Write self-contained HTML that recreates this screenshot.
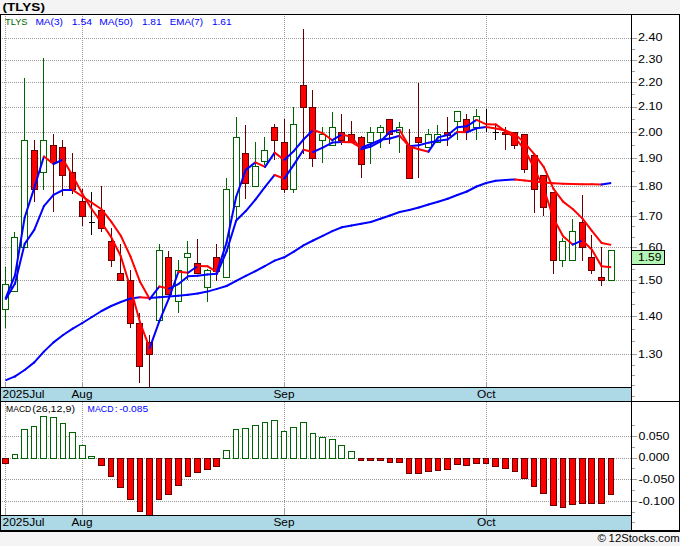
<!DOCTYPE html><html><head><meta charset="utf-8"><title>TLYS</title><style>html,body{margin:0;padding:0;background:#f4f4f4;}svg{display:block;}text{font-family:"Liberation Sans",sans-serif;}</style></head><body>
<svg width="680" height="546" viewBox="0 0 680 546">
<rect x="0" y="0" width="680" height="546" fill="#f4f4f4"/>
<rect x="0" y="14" width="680" height="518" fill="#000"/>
<rect x="1" y="15" width="678" height="515" fill="#fff"/>
<rect x="1" y="387" width="630" height="15" fill="#000"/><rect x="1" y="388" width="630" height="13" fill="#add8e6"/>
<rect x="1" y="515" width="630" height="15" fill="#000"/><rect x="1" y="516" width="630" height="14" fill="#add8e6"/>
<rect x="631" y="15" width="1" height="516" fill="#000"/>
<rect x="631" y="401" width="48" height="1" fill="#000"/>
<g stroke="#999999" stroke-width="1" stroke-dasharray="1 1" shape-rendering="crispEdges">
<line x1="2" y1="38.5" x2="631" y2="38.5"/>
<line x1="2" y1="60.5" x2="631" y2="60.5"/>
<line x1="2" y1="82.5" x2="631" y2="82.5"/>
<line x1="2" y1="107.5" x2="631" y2="107.5"/>
<line x1="2" y1="132.5" x2="631" y2="132.5"/>
<line x1="2" y1="158.5" x2="631" y2="158.5"/>
<line x1="2" y1="186.5" x2="631" y2="186.5"/>
<line x1="2" y1="216.5" x2="631" y2="216.5"/>
<line x1="2" y1="247.5" x2="631" y2="247.5"/>
<line x1="2" y1="280.5" x2="631" y2="280.5"/>
<line x1="2" y1="316.5" x2="631" y2="316.5"/>
<line x1="2" y1="354.5" x2="631" y2="354.5"/>
<line x1="2" y1="436.5" x2="631" y2="436.5"/>
<line x1="2" y1="458.5" x2="631" y2="458.5"/>
<line x1="2" y1="479.5" x2="631" y2="479.5"/>
<line x1="2" y1="501.5" x2="631" y2="501.5"/>
<line x1="5.5" y1="16" x2="5.5" y2="382"/>
<line x1="5.5" y1="402" x2="5.5" y2="510"/>
<line x1="82.5" y1="16" x2="82.5" y2="382"/>
<line x1="82.5" y1="402" x2="82.5" y2="510"/>
<line x1="284.5" y1="16" x2="284.5" y2="382"/>
<line x1="284.5" y1="402" x2="284.5" y2="510"/>
<line x1="486.5" y1="16" x2="486.5" y2="382"/>
<line x1="486.5" y1="402" x2="486.5" y2="510"/>
</g>
<g stroke="#a0a0a0" stroke-width="1" shape-rendering="crispEdges">
<line x1="5.5" y1="382" x2="5.5" y2="387"/>
<line x1="5.5" y1="509" x2="5.5" y2="515"/>
<line x1="82.5" y1="382" x2="82.5" y2="387"/>
<line x1="82.5" y1="509" x2="82.5" y2="515"/>
<line x1="284.5" y1="382" x2="284.5" y2="387"/>
<line x1="284.5" y1="509" x2="284.5" y2="515"/>
<line x1="486.5" y1="382" x2="486.5" y2="387"/>
<line x1="486.5" y1="509" x2="486.5" y2="515"/>
<line x1="632" y1="38.5" x2="637" y2="38.5"/>
<line x1="632" y1="60.5" x2="637" y2="60.5"/>
<line x1="632" y1="82.5" x2="637" y2="82.5"/>
<line x1="632" y1="107.5" x2="637" y2="107.5"/>
<line x1="632" y1="132.5" x2="637" y2="132.5"/>
<line x1="632" y1="158.5" x2="637" y2="158.5"/>
<line x1="632" y1="186.5" x2="637" y2="186.5"/>
<line x1="632" y1="216.5" x2="637" y2="216.5"/>
<line x1="632" y1="247.5" x2="637" y2="247.5"/>
<line x1="632" y1="280.5" x2="637" y2="280.5"/>
<line x1="632" y1="316.5" x2="637" y2="316.5"/>
<line x1="632" y1="354.5" x2="637" y2="354.5"/>
<line x1="632" y1="49.5" x2="635" y2="49.5"/>
<line x1="632" y1="71.5" x2="635" y2="71.5"/>
<line x1="632" y1="94.5" x2="635" y2="94.5"/>
<line x1="632" y1="119.5" x2="635" y2="119.5"/>
<line x1="632" y1="145.5" x2="635" y2="145.5"/>
<line x1="632" y1="171.5" x2="635" y2="171.5"/>
<line x1="632" y1="201.5" x2="635" y2="201.5"/>
<line x1="632" y1="226.5" x2="635" y2="226.5"/>
<line x1="632" y1="237.5" x2="635" y2="237.5"/>
<line x1="632" y1="258.5" x2="635" y2="258.5"/>
<line x1="632" y1="269.5" x2="635" y2="269.5"/>
<line x1="632" y1="292.5" x2="635" y2="292.5"/>
<line x1="632" y1="304.5" x2="635" y2="304.5"/>
<line x1="632" y1="329.5" x2="635" y2="329.5"/>
<line x1="632" y1="341.5" x2="635" y2="341.5"/>
<line x1="632" y1="365.5" x2="635" y2="365.5"/>
<line x1="632" y1="375.5" x2="635" y2="375.5"/>
<line x1="632" y1="385.5" x2="635" y2="385.5"/>
<line x1="632" y1="396.5" x2="635" y2="396.5"/>
<line x1="632" y1="436.5" x2="637" y2="436.5"/>
<line x1="632" y1="458.5" x2="637" y2="458.5"/>
<line x1="632" y1="479.5" x2="637" y2="479.5"/>
<line x1="632" y1="501.5" x2="637" y2="501.5"/>
<line x1="632" y1="425.5" x2="635" y2="425.5"/>
<line x1="632" y1="447.5" x2="635" y2="447.5"/>
<line x1="632" y1="468.5" x2="635" y2="468.5"/>
<line x1="632" y1="490.5" x2="635" y2="490.5"/>
<line x1="632" y1="512.5" x2="635" y2="512.5"/>
<line x1="632" y1="522.5" x2="635" y2="522.5"/>
</g>
<g shape-rendering="crispEdges">
<rect x="5" y="267" width="1" height="17" fill="#006400"/>
<rect x="5" y="309" width="1" height="19" fill="#006400"/>
<rect x="2.5" y="284.5" width="6" height="25" fill="#fff" stroke="#006400" stroke-width="1"/>
<rect x="14" y="232" width="1" height="5" fill="#006400"/>
<rect x="11.5" y="237.5" width="6" height="54" fill="#fff" stroke="#006400" stroke-width="1"/>
<rect x="24" y="78" width="1" height="62" fill="#006400"/>
<rect x="21.5" y="140.5" width="6" height="107" fill="#fff" stroke="#006400" stroke-width="1"/>
<rect x="34" y="140" width="1" height="10" fill="#660000"/>
<rect x="34" y="189" width="1" height="13" fill="#660000"/>
<rect x="31.5" y="150.5" width="6" height="39" fill="#ff0000" stroke="#660000" stroke-width="1"/>
<rect x="43" y="58" width="1" height="82" fill="#006400"/>
<rect x="43" y="172" width="1" height="18" fill="#006400"/>
<rect x="40.5" y="140.5" width="6" height="32" fill="#fff" stroke="#006400" stroke-width="1"/>
<rect x="53" y="134" width="1" height="11" fill="#660000"/>
<rect x="53" y="162" width="1" height="50" fill="#660000"/>
<rect x="50.5" y="145.5" width="6" height="17" fill="#ff0000" stroke="#660000" stroke-width="1"/>
<rect x="62" y="140" width="1" height="7" fill="#660000"/>
<rect x="62" y="175" width="1" height="21" fill="#660000"/>
<rect x="59.5" y="147.5" width="6" height="28" fill="#ff0000" stroke="#660000" stroke-width="1"/>
<rect x="72" y="153" width="1" height="19" fill="#660000"/>
<rect x="72" y="189" width="1" height="5" fill="#660000"/>
<rect x="69.5" y="172.5" width="6" height="17" fill="#ff0000" stroke="#660000" stroke-width="1"/>
<rect x="82" y="189" width="1" height="12" fill="#660000"/>
<rect x="82" y="216" width="1" height="10" fill="#660000"/>
<rect x="79.5" y="201.5" width="6" height="15" fill="#ff0000" stroke="#660000" stroke-width="1"/>
<rect x="91" y="192" width="1" height="43" fill="#000"/>
<rect x="89" y="222" width="6" height="1" fill="#000"/>
<rect x="101" y="186" width="1" height="24" fill="#660000"/>
<rect x="101" y="228" width="1" height="4" fill="#660000"/>
<rect x="98.5" y="210.5" width="6" height="18" fill="#ff0000" stroke="#660000" stroke-width="1"/>
<rect x="111" y="228" width="1" height="13" fill="#660000"/>
<rect x="111" y="260" width="1" height="7" fill="#660000"/>
<rect x="108.5" y="241.5" width="6" height="19" fill="#ff0000" stroke="#660000" stroke-width="1"/>
<rect x="120" y="244" width="1" height="29" fill="#660000"/>
<rect x="117.5" y="273.5" width="6" height="7" fill="#ff0000" stroke="#660000" stroke-width="1"/>
<rect x="130" y="270" width="1" height="10" fill="#660000"/>
<rect x="130" y="323" width="1" height="5" fill="#660000"/>
<rect x="127.5" y="280.5" width="6" height="43" fill="#ff0000" stroke="#660000" stroke-width="1"/>
<rect x="139" y="313" width="1" height="10" fill="#660000"/>
<rect x="139" y="366" width="1" height="17" fill="#660000"/>
<rect x="136.5" y="323.5" width="6" height="43" fill="#ff0000" stroke="#660000" stroke-width="1"/>
<rect x="149" y="335" width="1" height="7" fill="#660000"/>
<rect x="149" y="354" width="1" height="34" fill="#660000"/>
<rect x="146.5" y="342.5" width="6" height="12" fill="#ff0000" stroke="#660000" stroke-width="1"/>
<rect x="159" y="244" width="1" height="6" fill="#006400"/>
<rect x="156.5" y="250.5" width="6" height="70" fill="#fff" stroke="#006400" stroke-width="1"/>
<rect x="168" y="251" width="1" height="6" fill="#660000"/>
<rect x="165.5" y="257.5" width="6" height="37" fill="#ff0000" stroke="#660000" stroke-width="1"/>
<rect x="178" y="260" width="1" height="10" fill="#006400"/>
<rect x="178" y="301" width="1" height="12" fill="#006400"/>
<rect x="175.5" y="270.5" width="6" height="31" fill="#fff" stroke="#006400" stroke-width="1"/>
<rect x="187" y="241" width="1" height="12" fill="#006400"/>
<rect x="187" y="257" width="1" height="23" fill="#006400"/>
<rect x="184.5" y="253.5" width="6" height="4" fill="#fff" stroke="#006400" stroke-width="1"/>
<rect x="197" y="239" width="1" height="24" fill="#660000"/>
<rect x="194.5" y="263.5" width="6" height="10" fill="#ff0000" stroke="#660000" stroke-width="1"/>
<rect x="207" y="269" width="1" height="1" fill="#006400"/>
<rect x="207" y="287" width="1" height="15" fill="#006400"/>
<rect x="204.5" y="270.5" width="6" height="17" fill="#fff" stroke="#006400" stroke-width="1"/>
<rect x="216" y="244" width="1" height="13" fill="#660000"/>
<rect x="216" y="271" width="1" height="10" fill="#660000"/>
<rect x="213.5" y="257.5" width="6" height="14" fill="#ff0000" stroke="#660000" stroke-width="1"/>
<rect x="226" y="178" width="1" height="11" fill="#006400"/>
<rect x="223.5" y="189.5" width="6" height="88" fill="#fff" stroke="#006400" stroke-width="1"/>
<rect x="236" y="117" width="1" height="20" fill="#006400"/>
<rect x="236" y="206" width="1" height="14" fill="#006400"/>
<rect x="233.5" y="137.5" width="6" height="69" fill="#fff" stroke="#006400" stroke-width="1"/>
<rect x="245" y="125" width="1" height="28" fill="#660000"/>
<rect x="245" y="183" width="1" height="16" fill="#660000"/>
<rect x="242.5" y="153.5" width="6" height="30" fill="#ff0000" stroke="#660000" stroke-width="1"/>
<rect x="255" y="142" width="1" height="24" fill="#006400"/>
<rect x="252.5" y="166.5" width="6" height="20" fill="#fff" stroke="#006400" stroke-width="1"/>
<rect x="264" y="137" width="1" height="13" fill="#006400"/>
<rect x="264" y="161" width="1" height="4" fill="#006400"/>
<rect x="261.5" y="150.5" width="6" height="11" fill="#fff" stroke="#006400" stroke-width="1"/>
<rect x="274" y="124" width="1" height="3" fill="#660000"/>
<rect x="274" y="140" width="1" height="20" fill="#660000"/>
<rect x="271.5" y="127.5" width="6" height="13" fill="#ff0000" stroke="#660000" stroke-width="1"/>
<rect x="284" y="119" width="1" height="23" fill="#660000"/>
<rect x="284" y="189" width="1" height="4" fill="#660000"/>
<rect x="281.5" y="142.5" width="6" height="47" fill="#ff0000" stroke="#660000" stroke-width="1"/>
<rect x="293" y="107" width="1" height="17" fill="#006400"/>
<rect x="293" y="189" width="1" height="4" fill="#006400"/>
<rect x="290.5" y="124.5" width="6" height="65" fill="#fff" stroke="#006400" stroke-width="1"/>
<rect x="303" y="29" width="1" height="56" fill="#660000"/>
<rect x="303" y="107" width="1" height="47" fill="#660000"/>
<rect x="300.5" y="85.5" width="6" height="22" fill="#ff0000" stroke="#660000" stroke-width="1"/>
<rect x="312" y="90" width="1" height="17" fill="#660000"/>
<rect x="312" y="158" width="1" height="9" fill="#660000"/>
<rect x="309.5" y="107.5" width="6" height="51" fill="#ff0000" stroke="#660000" stroke-width="1"/>
<rect x="322" y="127" width="1" height="7" fill="#006400"/>
<rect x="322" y="140" width="1" height="23" fill="#006400"/>
<rect x="319.5" y="134.5" width="6" height="6" fill="#fff" stroke="#006400" stroke-width="1"/>
<rect x="332" y="112" width="1" height="15" fill="#006400"/>
<rect x="329.5" y="127.5" width="6" height="18" fill="#fff" stroke="#006400" stroke-width="1"/>
<rect x="341" y="114" width="1" height="18" fill="#660000"/>
<rect x="341" y="140" width="1" height="5" fill="#660000"/>
<rect x="338.5" y="132.5" width="6" height="8" fill="#ff0000" stroke="#660000" stroke-width="1"/>
<rect x="351" y="121" width="1" height="13" fill="#660000"/>
<rect x="348.5" y="134.5" width="6" height="8" fill="#ff0000" stroke="#660000" stroke-width="1"/>
<rect x="361" y="136" width="1" height="1" fill="#660000"/>
<rect x="361" y="164" width="1" height="14" fill="#660000"/>
<rect x="358.5" y="137.5" width="6" height="27" fill="#ff0000" stroke="#660000" stroke-width="1"/>
<rect x="370" y="127" width="1" height="5" fill="#006400"/>
<rect x="370" y="142" width="1" height="22" fill="#006400"/>
<rect x="367.5" y="132.5" width="6" height="10" fill="#fff" stroke="#006400" stroke-width="1"/>
<rect x="380" y="125" width="1" height="2" fill="#006400"/>
<rect x="380" y="132" width="1" height="16" fill="#006400"/>
<rect x="377.5" y="127.5" width="6" height="5" fill="#fff" stroke="#006400" stroke-width="1"/>
<rect x="389" y="134" width="1" height="10" fill="#660000"/>
<rect x="386.5" y="119.5" width="6" height="15" fill="#ff0000" stroke="#660000" stroke-width="1"/>
<rect x="399" y="122" width="1" height="5" fill="#006400"/>
<rect x="399" y="132" width="1" height="21" fill="#006400"/>
<rect x="396.5" y="127.5" width="6" height="5" fill="#fff" stroke="#006400" stroke-width="1"/>
<rect x="409" y="129" width="1" height="16" fill="#660000"/>
<rect x="406.5" y="145.5" width="6" height="33" fill="#ff0000" stroke="#660000" stroke-width="1"/>
<rect x="418" y="83" width="1" height="54" fill="#660000"/>
<rect x="418" y="142" width="1" height="36" fill="#660000"/>
<rect x="415.5" y="137.5" width="6" height="5" fill="#ff0000" stroke="#660000" stroke-width="1"/>
<rect x="428" y="129" width="1" height="5" fill="#006400"/>
<rect x="425.5" y="134.5" width="6" height="13" fill="#fff" stroke="#006400" stroke-width="1"/>
<rect x="437" y="125" width="1" height="9" fill="#006400"/>
<rect x="434.5" y="134.5" width="6" height="8" fill="#fff" stroke="#006400" stroke-width="1"/>
<rect x="447" y="117" width="1" height="15" fill="#660000"/>
<rect x="447" y="135" width="1" height="11" fill="#660000"/>
<rect x="444.5" y="132.5" width="6" height="3" fill="#ff0000" stroke="#660000" stroke-width="1"/>
<rect x="457" y="121" width="1" height="19" fill="#006400"/>
<rect x="454.5" y="111.5" width="6" height="10" fill="#fff" stroke="#006400" stroke-width="1"/>
<rect x="466" y="114" width="1" height="5" fill="#660000"/>
<rect x="466" y="131" width="1" height="9" fill="#660000"/>
<rect x="463.5" y="119.5" width="6" height="12" fill="#ff0000" stroke="#660000" stroke-width="1"/>
<rect x="476" y="109" width="1" height="7" fill="#006400"/>
<rect x="476" y="127" width="1" height="13" fill="#006400"/>
<rect x="473.5" y="116.5" width="6" height="11" fill="#fff" stroke="#006400" stroke-width="1"/>
<rect x="486" y="109" width="1" height="23" fill="#000"/>
<rect x="495" y="125" width="1" height="15" fill="#000"/>
<rect x="493" y="132" width="6" height="1" fill="#000"/>
<rect x="505" y="127" width="1" height="5" fill="#660000"/>
<rect x="505" y="134" width="1" height="16" fill="#660000"/>
<rect x="502.5" y="132.5" width="6" height="2" fill="#ff0000" stroke="#660000" stroke-width="1"/>
<rect x="514" y="145" width="1" height="4" fill="#660000"/>
<rect x="511.5" y="132.5" width="6" height="13" fill="#ff0000" stroke="#660000" stroke-width="1"/>
<rect x="524" y="169" width="1" height="4" fill="#660000"/>
<rect x="521.5" y="134.5" width="6" height="35" fill="#ff0000" stroke="#660000" stroke-width="1"/>
<rect x="534" y="189" width="1" height="24" fill="#660000"/>
<rect x="531.5" y="155.5" width="6" height="34" fill="#ff0000" stroke="#660000" stroke-width="1"/>
<rect x="543" y="207" width="1" height="9" fill="#660000"/>
<rect x="540.5" y="175.5" width="6" height="32" fill="#ff0000" stroke="#660000" stroke-width="1"/>
<rect x="553" y="260" width="1" height="14" fill="#660000"/>
<rect x="550.5" y="192.5" width="6" height="68" fill="#ff0000" stroke="#660000" stroke-width="1"/>
<rect x="562" y="238" width="1" height="3" fill="#006400"/>
<rect x="562" y="260" width="1" height="7" fill="#006400"/>
<rect x="559.5" y="241.5" width="6" height="19" fill="#fff" stroke="#006400" stroke-width="1"/>
<rect x="572" y="219" width="1" height="12" fill="#006400"/>
<rect x="569.5" y="231.5" width="6" height="29" fill="#fff" stroke="#006400" stroke-width="1"/>
<rect x="582" y="195" width="1" height="27" fill="#660000"/>
<rect x="582" y="247" width="1" height="14" fill="#660000"/>
<rect x="579.5" y="222.5" width="6" height="25" fill="#ff0000" stroke="#660000" stroke-width="1"/>
<rect x="591" y="235" width="1" height="22" fill="#660000"/>
<rect x="591" y="270" width="1" height="4" fill="#660000"/>
<rect x="588.5" y="257.5" width="6" height="13" fill="#ff0000" stroke="#660000" stroke-width="1"/>
<rect x="601" y="247" width="1" height="30" fill="#660000"/>
<rect x="601" y="280" width="1" height="6" fill="#660000"/>
<rect x="598.5" y="277.5" width="6" height="3" fill="#ff0000" stroke="#660000" stroke-width="1"/>
<rect x="608.5" y="250.5" width="6" height="30" fill="#fff" stroke="#006400" stroke-width="1"/>
</g>
<g shape-rendering="crispEdges">
<rect x="2.5" y="458.5" width="6" height="5" fill="#ff0000" stroke="#660000" stroke-width="1"/>
<rect x="12.5" y="454.5" width="5" height="4" fill="#fff" stroke="#006400" stroke-width="1"/>
<rect x="21.5" y="429.5" width="6" height="29" fill="#fff" stroke="#006400" stroke-width="1"/>
<rect x="31.5" y="426.5" width="5" height="32" fill="#fff" stroke="#006400" stroke-width="1"/>
<rect x="40.5" y="416.5" width="6" height="42" fill="#fff" stroke="#006400" stroke-width="1"/>
<rect x="50.5" y="417.5" width="6" height="41" fill="#fff" stroke="#006400" stroke-width="1"/>
<rect x="60.5" y="423.5" width="5" height="35" fill="#fff" stroke="#006400" stroke-width="1"/>
<rect x="69.5" y="432.5" width="6" height="26" fill="#fff" stroke="#006400" stroke-width="1"/>
<rect x="79.5" y="445.5" width="6" height="13" fill="#fff" stroke="#006400" stroke-width="1"/>
<rect x="88.5" y="456.5" width="6" height="2" fill="#fff" stroke="#006400" stroke-width="1"/>
<rect x="98.5" y="458.5" width="6" height="7" fill="#ff0000" stroke="#660000" stroke-width="1"/>
<rect x="108.5" y="458.5" width="5" height="18" fill="#ff0000" stroke="#660000" stroke-width="1"/>
<rect x="117.5" y="458.5" width="6" height="29" fill="#ff0000" stroke="#660000" stroke-width="1"/>
<rect x="127.5" y="458.5" width="6" height="41" fill="#ff0000" stroke="#660000" stroke-width="1"/>
<rect x="137.5" y="458.5" width="5" height="53" fill="#ff0000" stroke="#660000" stroke-width="1"/>
<rect x="146.5" y="458.5" width="6" height="57" fill="#ff0000" stroke="#660000" stroke-width="1"/>
<rect x="156.5" y="458.5" width="5" height="41" fill="#ff0000" stroke="#660000" stroke-width="1"/>
<rect x="165.5" y="458.5" width="6" height="36" fill="#ff0000" stroke="#660000" stroke-width="1"/>
<rect x="175.5" y="458.5" width="6" height="27" fill="#ff0000" stroke="#660000" stroke-width="1"/>
<rect x="185.5" y="458.5" width="5" height="18" fill="#ff0000" stroke="#660000" stroke-width="1"/>
<rect x="194.5" y="458.5" width="6" height="14" fill="#ff0000" stroke="#660000" stroke-width="1"/>
<rect x="204.5" y="458.5" width="6" height="11" fill="#ff0000" stroke="#660000" stroke-width="1"/>
<rect x="213.5" y="458.5" width="6" height="8" fill="#ff0000" stroke="#660000" stroke-width="1"/>
<rect x="223.5" y="450.5" width="6" height="8" fill="#fff" stroke="#006400" stroke-width="1"/>
<rect x="233.5" y="429.5" width="5" height="29" fill="#fff" stroke="#006400" stroke-width="1"/>
<rect x="242.5" y="428.5" width="6" height="30" fill="#fff" stroke="#006400" stroke-width="1"/>
<rect x="252.5" y="425.5" width="6" height="33" fill="#fff" stroke="#006400" stroke-width="1"/>
<rect x="262.5" y="422.5" width="5" height="36" fill="#fff" stroke="#006400" stroke-width="1"/>
<rect x="271.5" y="420.5" width="6" height="38" fill="#fff" stroke="#006400" stroke-width="1"/>
<rect x="281.5" y="431.5" width="5" height="27" fill="#fff" stroke="#006400" stroke-width="1"/>
<rect x="290.5" y="427.5" width="6" height="31" fill="#fff" stroke="#006400" stroke-width="1"/>
<rect x="300.5" y="422.5" width="6" height="36" fill="#fff" stroke="#006400" stroke-width="1"/>
<rect x="310.5" y="433.5" width="5" height="25" fill="#fff" stroke="#006400" stroke-width="1"/>
<rect x="319.5" y="437.5" width="6" height="21" fill="#fff" stroke="#006400" stroke-width="1"/>
<rect x="329.5" y="439.5" width="6" height="19" fill="#fff" stroke="#006400" stroke-width="1"/>
<rect x="338.5" y="445.5" width="6" height="13" fill="#fff" stroke="#006400" stroke-width="1"/>
<rect x="348.5" y="451.5" width="6" height="7" fill="#fff" stroke="#006400" stroke-width="1"/>
<rect x="358.5" y="458.5" width="5" height="2" fill="#ff0000" stroke="#660000" stroke-width="1"/>
<rect x="367.5" y="458.5" width="6" height="2" fill="#ff0000" stroke="#660000" stroke-width="1"/>
<rect x="377.5" y="458.5" width="6" height="2" fill="#ff0000" stroke="#660000" stroke-width="1"/>
<rect x="387.5" y="458.5" width="5" height="4" fill="#ff0000" stroke="#660000" stroke-width="1"/>
<rect x="396.5" y="458.5" width="6" height="4" fill="#ff0000" stroke="#660000" stroke-width="1"/>
<rect x="406.5" y="458.5" width="5" height="15" fill="#ff0000" stroke="#660000" stroke-width="1"/>
<rect x="415.5" y="458.5" width="6" height="15" fill="#ff0000" stroke="#660000" stroke-width="1"/>
<rect x="425.5" y="458.5" width="6" height="13" fill="#ff0000" stroke="#660000" stroke-width="1"/>
<rect x="435.5" y="458.5" width="5" height="12" fill="#ff0000" stroke="#660000" stroke-width="1"/>
<rect x="444.5" y="458.5" width="6" height="11" fill="#ff0000" stroke="#660000" stroke-width="1"/>
<rect x="454.5" y="458.5" width="6" height="6" fill="#ff0000" stroke="#660000" stroke-width="1"/>
<rect x="463.5" y="458.5" width="6" height="7" fill="#ff0000" stroke="#660000" stroke-width="1"/>
<rect x="473.5" y="458.5" width="6" height="5" fill="#ff0000" stroke="#660000" stroke-width="1"/>
<rect x="483.5" y="458.5" width="5" height="5" fill="#ff0000" stroke="#660000" stroke-width="1"/>
<rect x="492.5" y="458.5" width="6" height="8" fill="#ff0000" stroke="#660000" stroke-width="1"/>
<rect x="502.5" y="458.5" width="6" height="10" fill="#ff0000" stroke="#660000" stroke-width="1"/>
<rect x="512.5" y="458.5" width="5" height="13" fill="#ff0000" stroke="#660000" stroke-width="1"/>
<rect x="521.5" y="458.5" width="6" height="20" fill="#ff0000" stroke="#660000" stroke-width="1"/>
<rect x="531.5" y="458.5" width="5" height="28" fill="#ff0000" stroke="#660000" stroke-width="1"/>
<rect x="540.5" y="458.5" width="6" height="35" fill="#ff0000" stroke="#660000" stroke-width="1"/>
<rect x="550.5" y="458.5" width="6" height="47" fill="#ff0000" stroke="#660000" stroke-width="1"/>
<rect x="560.5" y="458.5" width="5" height="49" fill="#ff0000" stroke="#660000" stroke-width="1"/>
<rect x="569.5" y="458.5" width="6" height="46" fill="#ff0000" stroke="#660000" stroke-width="1"/>
<rect x="579.5" y="458.5" width="6" height="45" fill="#ff0000" stroke="#660000" stroke-width="1"/>
<rect x="588.5" y="458.5" width="6" height="45" fill="#ff0000" stroke="#660000" stroke-width="1"/>
<rect x="598.5" y="458.5" width="6" height="45" fill="#ff0000" stroke="#660000" stroke-width="1"/>
<rect x="608.5" y="458.5" width="5" height="36" fill="#ff0000" stroke="#660000" stroke-width="1"/>
</g>
<rect x="1" y="515" width="630" height="1" fill="#000"/>
<g stroke-width="2" stroke-linecap="round" fill="none">
<line x1="5.43" y1="380.4" x2="15.04" y2="376.4" stroke="#0000ff" stroke-linecap="butt"/>
<circle cx="15.04" cy="376.4" r="1" fill="#0000ff" stroke="none"/>
<line x1="15.04" y1="376.4" x2="24.66" y2="370" stroke="#0000ff"/>
<line x1="24.66" y1="370" x2="34.27" y2="362.4" stroke="#0000ff"/>
<line x1="34.27" y1="362.4" x2="43.89" y2="351.6" stroke="#0000ff"/>
<line x1="43.89" y1="351.6" x2="53.51" y2="342.4" stroke="#0000ff"/>
<line x1="53.51" y1="342.4" x2="63.12" y2="335" stroke="#0000ff"/>
<line x1="63.12" y1="335" x2="72.74" y2="328.6" stroke="#0000ff"/>
<line x1="72.74" y1="328.6" x2="82.35" y2="323" stroke="#0000ff"/>
<line x1="82.35" y1="323" x2="91.97" y2="317" stroke="#0000ff"/>
<line x1="91.97" y1="317" x2="101.58" y2="311" stroke="#0000ff"/>
<line x1="101.58" y1="311" x2="111.2" y2="306" stroke="#0000ff"/>
<line x1="111.2" y1="306" x2="120.81" y2="302" stroke="#0000ff"/>
<line x1="120.81" y1="302" x2="130.43" y2="298.5" stroke="#0000ff"/>
<line x1="130.43" y1="298.5" x2="140.04" y2="297.2" stroke="#0000ff"/>
<line x1="140.04" y1="297.2" x2="149.66" y2="297.9" stroke="#ff0000"/>
<line x1="149.66" y1="297.9" x2="159.27" y2="297.2" stroke="#0000ff"/>
<line x1="159.27" y1="297.2" x2="168.89" y2="296.5" stroke="#0000ff"/>
<line x1="168.89" y1="296.5" x2="178.5" y2="295.7" stroke="#0000ff"/>
<line x1="178.5" y1="295.7" x2="188.12" y2="294.8" stroke="#0000ff"/>
<line x1="188.12" y1="294.8" x2="197.73" y2="293.5" stroke="#0000ff"/>
<line x1="197.73" y1="293.5" x2="207.34" y2="291.6" stroke="#0000ff"/>
<line x1="207.34" y1="291.6" x2="216.96" y2="288.9" stroke="#0000ff"/>
<line x1="216.96" y1="288.9" x2="226.58" y2="286.0" stroke="#0000ff"/>
<line x1="226.58" y1="286.0" x2="236.19" y2="280.9" stroke="#0000ff"/>
<line x1="236.19" y1="280.9" x2="245.81" y2="275.9" stroke="#0000ff"/>
<line x1="245.81" y1="275.9" x2="255.42" y2="271.2" stroke="#0000ff"/>
<line x1="255.42" y1="271.2" x2="265.03" y2="266" stroke="#0000ff"/>
<line x1="265.03" y1="266" x2="274.65" y2="260.6" stroke="#0000ff"/>
<line x1="274.65" y1="260.6" x2="284.26" y2="257.3" stroke="#0000ff"/>
<line x1="284.26" y1="257.3" x2="293.88" y2="251.6" stroke="#0000ff"/>
<line x1="293.88" y1="251.6" x2="303.49" y2="245.3" stroke="#0000ff"/>
<line x1="303.49" y1="245.3" x2="313.11" y2="240.5" stroke="#0000ff"/>
<line x1="313.11" y1="240.5" x2="322.72" y2="235.8" stroke="#0000ff"/>
<line x1="322.72" y1="235.8" x2="332.34" y2="231.1" stroke="#0000ff"/>
<line x1="332.34" y1="231.1" x2="341.95" y2="227.3" stroke="#0000ff"/>
<line x1="341.95" y1="227.3" x2="351.57" y2="225.5" stroke="#0000ff"/>
<line x1="351.57" y1="225.5" x2="361.18" y2="223.8" stroke="#0000ff"/>
<line x1="361.18" y1="223.8" x2="370.8" y2="222" stroke="#0000ff"/>
<line x1="370.8" y1="222" x2="380.41" y2="218.8" stroke="#0000ff"/>
<line x1="380.41" y1="218.8" x2="390.03" y2="215.5" stroke="#0000ff"/>
<line x1="390.03" y1="215.5" x2="399.64" y2="212" stroke="#0000ff"/>
<line x1="399.64" y1="212" x2="409.26" y2="210" stroke="#0000ff"/>
<line x1="409.26" y1="210" x2="418.87" y2="207.5" stroke="#0000ff"/>
<line x1="418.87" y1="207.5" x2="428.49" y2="204.5" stroke="#0000ff"/>
<line x1="428.49" y1="204.5" x2="438.1" y2="201.8" stroke="#0000ff"/>
<line x1="438.1" y1="201.8" x2="447.72" y2="198.8" stroke="#0000ff"/>
<line x1="447.72" y1="198.8" x2="457.33" y2="195" stroke="#0000ff"/>
<line x1="457.33" y1="195" x2="466.95" y2="191.5" stroke="#0000ff"/>
<line x1="466.95" y1="191.5" x2="476.56" y2="186.5" stroke="#0000ff"/>
<line x1="476.56" y1="186.5" x2="486.18" y2="183" stroke="#0000ff"/>
<line x1="486.18" y1="183" x2="495.79" y2="180.7" stroke="#0000ff"/>
<line x1="495.79" y1="180.7" x2="505.41" y2="180" stroke="#0000ff"/>
<line x1="505.41" y1="180" x2="515.02" y2="179.5" stroke="#0000ff"/>
<line x1="515.02" y1="179.5" x2="524.64" y2="180.5" stroke="#ff0000"/>
<line x1="524.64" y1="180.5" x2="534.25" y2="181.5" stroke="#ff0000"/>
<line x1="534.25" y1="181.5" x2="543.87" y2="182.5" stroke="#ff0000"/>
<line x1="543.87" y1="182.5" x2="553.49" y2="183.2" stroke="#ff0000"/>
<line x1="553.49" y1="183.2" x2="563.1" y2="183.8" stroke="#ff0000"/>
<line x1="563.1" y1="183.8" x2="572.71" y2="184" stroke="#ff0000"/>
<line x1="572.71" y1="184" x2="582.33" y2="184.2" stroke="#ff0000"/>
<line x1="582.33" y1="184.2" x2="591.94" y2="184.3" stroke="#ff0000"/>
<line x1="591.94" y1="184.3" x2="601.56" y2="184.4" stroke="#ff0000"/>
<line x1="601.56" y1="184.4" x2="611.17" y2="183" stroke="#0000ff" stroke-linecap="butt"/>
<circle cx="601.56" cy="184.4" r="1" fill="#0000ff" stroke="none"/>
<line x1="5.43" y1="299.7" x2="15.04" y2="283.49" stroke="#0000ff" stroke-linecap="butt"/>
<circle cx="15.04" cy="283.49" r="1" fill="#0000ff" stroke="none"/>
<line x1="15.04" y1="283.49" x2="24.66" y2="243.91" stroke="#0000ff"/>
<line x1="24.66" y1="243.91" x2="34.27" y2="229.82" stroke="#0000ff"/>
<line x1="34.27" y1="229.82" x2="43.89" y2="206.05" stroke="#0000ff"/>
<line x1="43.89" y1="206.05" x2="53.51" y2="194.87" stroke="#0000ff"/>
<line x1="53.51" y1="194.87" x2="63.12" y2="190.01" stroke="#0000ff"/>
<line x1="63.12" y1="190.01" x2="72.74" y2="189.93" stroke="#0000ff"/>
<line x1="72.74" y1="189.93" x2="82.35" y2="196.49" stroke="#ff0000"/>
<line x1="82.35" y1="196.49" x2="91.97" y2="202.92" stroke="#ff0000"/>
<line x1="91.97" y1="202.92" x2="101.58" y2="209.25" stroke="#ff0000"/>
<line x1="101.58" y1="209.25" x2="111.2" y2="221.64" stroke="#ff0000"/>
<line x1="111.2" y1="221.64" x2="120.81" y2="235.78" stroke="#ff0000"/>
<line x1="120.81" y1="235.78" x2="130.43" y2="256.39" stroke="#ff0000"/>
<line x1="130.43" y1="256.39" x2="140.04" y2="281.84" stroke="#ff0000"/>
<line x1="140.04" y1="281.84" x2="149.66" y2="299.11" stroke="#ff0000"/>
<line x1="149.66" y1="299.11" x2="159.27" y2="286.57" stroke="#0000ff"/>
<line x1="159.27" y1="286.57" x2="168.89" y2="288.59" stroke="#ff0000"/>
<line x1="168.89" y1="288.59" x2="178.5" y2="284.06" stroke="#0000ff"/>
<line x1="178.5" y1="284.06" x2="188.12" y2="276.3" stroke="#0000ff"/>
<line x1="188.12" y1="276.3" x2="197.73" y2="275.65" stroke="#0000ff"/>
<line x1="197.73" y1="275.65" x2="207.34" y2="274.41" stroke="#0000ff"/>
<line x1="207.34" y1="274.41" x2="216.96" y2="273.73" stroke="#0000ff"/>
<line x1="216.96" y1="273.73" x2="226.58" y2="251.4" stroke="#0000ff"/>
<line x1="226.58" y1="251.4" x2="236.19" y2="220.54" stroke="#0000ff"/>
<line x1="236.19" y1="220.54" x2="245.81" y2="211.08" stroke="#0000ff"/>
<line x1="245.81" y1="211.08" x2="255.42" y2="199.62" stroke="#0000ff"/>
<line x1="255.42" y1="199.62" x2="265.03" y2="186.95" stroke="#0000ff"/>
<line x1="265.03" y1="186.95" x2="274.65" y2="174.99" stroke="#0000ff"/>
<line x1="274.65" y1="174.99" x2="284.26" y2="178.63" stroke="#ff0000"/>
<line x1="284.26" y1="178.63" x2="293.88" y2="164.61" stroke="#0000ff"/>
<line x1="293.88" y1="164.61" x2="303.49" y2="149.78" stroke="#0000ff"/>
<line x1="303.49" y1="149.78" x2="313.11" y2="152.0" stroke="#ff0000"/>
<line x1="313.11" y1="152.0" x2="322.72" y2="147.62" stroke="#0000ff"/>
<line x1="322.72" y1="147.62" x2="332.34" y2="142.57" stroke="#0000ff"/>
<line x1="332.34" y1="142.57" x2="341.95" y2="142.1" stroke="#0000ff"/>
<line x1="341.95" y1="142.1" x2="351.57" y2="142.25" stroke="#ff0000"/>
<line x1="351.57" y1="142.25" x2="361.18" y2="147.77" stroke="#ff0000"/>
<line x1="361.18" y1="147.77" x2="370.8" y2="143.96" stroke="#0000ff"/>
<line x1="370.8" y1="143.96" x2="380.41" y2="139.85" stroke="#0000ff"/>
<line x1="380.41" y1="139.85" x2="390.03" y2="138.56" stroke="#0000ff"/>
<line x1="390.03" y1="138.56" x2="399.64" y2="135.82" stroke="#0000ff"/>
<line x1="399.64" y1="135.82" x2="409.26" y2="146.21" stroke="#ff0000"/>
<line x1="409.26" y1="146.21" x2="418.87" y2="145.33" stroke="#0000ff"/>
<line x1="418.87" y1="145.33" x2="428.49" y2="142.65" stroke="#0000ff"/>
<line x1="428.49" y1="142.65" x2="438.1" y2="140.65" stroke="#0000ff"/>
<line x1="438.1" y1="140.65" x2="447.72" y2="139.41" stroke="#0000ff"/>
<line x1="447.72" y1="139.41" x2="457.33" y2="132.1" stroke="#0000ff"/>
<line x1="457.33" y1="132.1" x2="466.95" y2="132.2" stroke="#ff0000"/>
<line x1="466.95" y1="132.2" x2="476.56" y2="128.27" stroke="#0000ff"/>
<line x1="476.56" y1="128.27" x2="486.18" y2="126.9" stroke="#0000ff"/>
<line x1="486.18" y1="126.9" x2="495.79" y2="128.6" stroke="#ff0000"/>
<line x1="495.79" y1="128.6" x2="505.41" y2="130.48" stroke="#ff0000"/>
<line x1="505.41" y1="130.48" x2="515.02" y2="134.24" stroke="#ff0000"/>
<line x1="515.02" y1="134.24" x2="524.64" y2="142.88" stroke="#ff0000"/>
<line x1="524.64" y1="142.88" x2="534.25" y2="154.19" stroke="#ff0000"/>
<line x1="534.25" y1="154.19" x2="543.87" y2="167.06" stroke="#ff0000"/>
<line x1="543.87" y1="167.06" x2="553.49" y2="188.92" stroke="#ff0000"/>
<line x1="553.49" y1="188.92" x2="563.1" y2="201.62" stroke="#ff0000"/>
<line x1="563.1" y1="201.62" x2="572.71" y2="208.98" stroke="#ff0000"/>
<line x1="572.71" y1="208.98" x2="582.33" y2="218.39" stroke="#ff0000"/>
<line x1="582.33" y1="218.39" x2="591.94" y2="230.98" stroke="#ff0000"/>
<line x1="591.94" y1="230.98" x2="601.56" y2="242.96" stroke="#ff0000"/>
<line x1="601.56" y1="242.96" x2="611.17" y2="244.89" stroke="#ff0000" stroke-linecap="butt"/>
<circle cx="601.56" cy="242.96" r="1" fill="#ff0000" stroke="none"/>
<line x1="5.43" y1="298.62" x2="15.04" y2="275.25" stroke="#0000ff" stroke-linecap="butt"/>
<circle cx="15.04" cy="275.25" r="1" fill="#0000ff" stroke="none"/>
<line x1="15.04" y1="275.25" x2="24.66" y2="217.5" stroke="#0000ff"/>
<line x1="24.66" y1="217.5" x2="34.27" y2="187.85" stroke="#0000ff"/>
<line x1="34.27" y1="187.85" x2="43.89" y2="156.52" stroke="#0000ff"/>
<line x1="43.89" y1="156.52" x2="53.51" y2="163.98" stroke="#ff0000"/>
<line x1="53.51" y1="163.98" x2="63.12" y2="159.5" stroke="#0000ff"/>
<line x1="63.12" y1="159.5" x2="72.74" y2="175.92" stroke="#ff0000"/>
<line x1="72.74" y1="175.92" x2="82.35" y2="193.75" stroke="#ff0000"/>
<line x1="82.35" y1="193.75" x2="91.97" y2="209.5" stroke="#ff0000"/>
<line x1="91.97" y1="209.5" x2="101.58" y2="222.68" stroke="#ff0000"/>
<line x1="101.58" y1="222.68" x2="111.2" y2="237.1" stroke="#ff0000"/>
<line x1="111.2" y1="237.1" x2="120.81" y2="256.25" stroke="#ff0000"/>
<line x1="120.81" y1="256.25" x2="130.43" y2="287.7" stroke="#ff0000"/>
<line x1="130.43" y1="287.7" x2="140.04" y2="322.5" stroke="#ff0000"/>
<line x1="140.04" y1="322.5" x2="149.66" y2="348.05" stroke="#ff0000"/>
<line x1="149.66" y1="348.05" x2="159.27" y2="321.34" stroke="#0000ff"/>
<line x1="159.27" y1="321.34" x2="168.89" y2="298.28" stroke="#0000ff"/>
<line x1="168.89" y1="298.28" x2="178.5" y2="271.72" stroke="#0000ff"/>
<line x1="178.5" y1="271.72" x2="188.12" y2="272.76" stroke="#ff0000"/>
<line x1="188.12" y1="272.76" x2="197.73" y2="265.96" stroke="#0000ff"/>
<line x1="197.73" y1="265.96" x2="207.34" y2="266.2" stroke="#ff0000"/>
<line x1="207.34" y1="266.2" x2="216.96" y2="272.03" stroke="#ff0000"/>
<line x1="216.96" y1="272.03" x2="226.58" y2="242.58" stroke="#0000ff"/>
<line x1="226.58" y1="242.58" x2="236.19" y2="196.78" stroke="#0000ff"/>
<line x1="236.19" y1="196.78" x2="245.81" y2="169.84" stroke="#0000ff"/>
<line x1="245.81" y1="169.84" x2="255.42" y2="162.35" stroke="#0000ff"/>
<line x1="255.42" y1="162.35" x2="265.03" y2="166.86" stroke="#ff0000"/>
<line x1="265.03" y1="166.86" x2="274.65" y2="152.59" stroke="#0000ff"/>
<line x1="274.65" y1="152.59" x2="284.26" y2="159.94" stroke="#ff0000"/>
<line x1="284.26" y1="159.94" x2="293.88" y2="150.97" stroke="#0000ff"/>
<line x1="293.88" y1="150.97" x2="303.49" y2="139.51" stroke="#0000ff"/>
<line x1="303.49" y1="139.51" x2="313.11" y2="129.93" stroke="#0000ff"/>
<line x1="313.11" y1="129.93" x2="322.72" y2="133.28" stroke="#ff0000"/>
<line x1="322.72" y1="133.28" x2="332.34" y2="140.2" stroke="#ff0000"/>
<line x1="332.34" y1="140.2" x2="341.95" y2="134.34" stroke="#0000ff"/>
<line x1="341.95" y1="134.34" x2="351.57" y2="136.99" stroke="#ff0000"/>
<line x1="351.57" y1="136.99" x2="361.18" y2="149.25" stroke="#ff0000"/>
<line x1="361.18" y1="149.25" x2="370.8" y2="146.53" stroke="#0000ff"/>
<line x1="370.8" y1="146.53" x2="380.41" y2="141.44" stroke="#0000ff"/>
<line x1="380.41" y1="141.44" x2="390.03" y2="131.69" stroke="#0000ff"/>
<line x1="390.03" y1="131.69" x2="399.64" y2="130.02" stroke="#0000ff"/>
<line x1="399.64" y1="130.02" x2="409.26" y2="146.54" stroke="#ff0000"/>
<line x1="409.26" y1="146.54" x2="418.87" y2="149.26" stroke="#ff0000"/>
<line x1="418.87" y1="149.26" x2="428.49" y2="151.68" stroke="#ff0000"/>
<line x1="428.49" y1="151.68" x2="438.1" y2="137.35" stroke="#0000ff"/>
<line x1="438.1" y1="137.35" x2="447.72" y2="135.03" stroke="#0000ff"/>
<line x1="447.72" y1="135.03" x2="457.33" y2="127.25" stroke="#0000ff"/>
<line x1="457.33" y1="127.25" x2="466.95" y2="126.26" stroke="#0000ff"/>
<line x1="466.95" y1="126.26" x2="476.56" y2="119.96" stroke="#0000ff"/>
<line x1="476.56" y1="119.96" x2="486.18" y2="124.3" stroke="#ff0000"/>
<line x1="486.18" y1="124.3" x2="495.79" y2="124.4" stroke="#ff0000"/>
<line x1="495.79" y1="124.4" x2="505.41" y2="131.36" stroke="#ff0000"/>
<line x1="505.41" y1="131.36" x2="515.02" y2="137.67" stroke="#ff0000"/>
<line x1="515.02" y1="137.67" x2="524.64" y2="149.83" stroke="#ff0000"/>
<line x1="524.64" y1="149.83" x2="534.25" y2="168.05" stroke="#ff0000"/>
<line x1="534.25" y1="168.05" x2="543.87" y2="188.8" stroke="#ff0000"/>
<line x1="543.87" y1="188.8" x2="553.49" y2="218.49" stroke="#ff0000"/>
<line x1="553.49" y1="218.49" x2="563.1" y2="236.23" stroke="#ff0000"/>
<line x1="563.1" y1="236.23" x2="572.71" y2="244.56" stroke="#ff0000"/>
<line x1="572.71" y1="244.56" x2="582.33" y2="240.32" stroke="#0000ff"/>
<line x1="582.33" y1="240.32" x2="591.94" y2="249.79" stroke="#ff0000"/>
<line x1="591.94" y1="249.79" x2="601.56" y2="266.18" stroke="#ff0000"/>
<line x1="601.56" y1="266.18" x2="611.17" y2="267.22" stroke="#ff0000" stroke-linecap="butt"/>
<circle cx="601.56" cy="266.18" r="1" fill="#ff0000" stroke="none"/>
</g>
<text x="2.6" y="11" font-size="11.8" fill="#000" textLength="42.3" lengthAdjust="spacingAndGlyphs" font-weight="bold" text-anchor="start">(TLYS)</text>
<text x="5" y="24.8" font-size="9.2" fill="#006400" textLength="22.5" lengthAdjust="spacingAndGlyphs" text-anchor="start">TLYS</text>
<text x="35.4" y="24.8" font-size="9.2" fill="#0000ff" textLength="27.6" lengthAdjust="spacingAndGlyphs" text-anchor="start">MA(3)</text>
<text x="71.8" y="24.8" font-size="9.2" fill="#0000ff" textLength="20.3" lengthAdjust="spacingAndGlyphs" text-anchor="start">1.54</text>
<text x="99.3" y="24.8" font-size="9.2" fill="#0000ff" textLength="33.5" lengthAdjust="spacingAndGlyphs" text-anchor="start">MA(50)</text>
<text x="141.9" y="24.8" font-size="9.2" fill="#0000ff" textLength="19.7" lengthAdjust="spacingAndGlyphs" text-anchor="start">1.81</text>
<text x="169.8" y="24.8" font-size="9.2" fill="#0000ff" textLength="33.2" lengthAdjust="spacingAndGlyphs" text-anchor="start">EMA(7)</text>
<text x="211.9" y="24.8" font-size="9.2" fill="#0000ff" textLength="19.7" lengthAdjust="spacingAndGlyphs" text-anchor="start">1.61</text>
<text x="6" y="411.9" font-size="9.6" fill="#000" textLength="25.3" lengthAdjust="spacingAndGlyphs" text-anchor="start">MACD</text>
<text x="32.2" y="411.9" font-size="9.6" fill="#000" textLength="42.8" lengthAdjust="spacingAndGlyphs" text-anchor="start">(26,12,9)</text>
<text x="87.6" y="411.9" font-size="9.6" fill="#0000ff" textLength="25.9" lengthAdjust="spacingAndGlyphs" text-anchor="start">MACD</text>
<text x="114.8" y="411.9" font-size="9.6" fill="#0000ff" text-anchor="start">:</text>
<text x="119.2" y="411.9" font-size="9.6" fill="#0000ff" textLength="29" lengthAdjust="spacingAndGlyphs" text-anchor="start">-0.085</text>
<text x="638" y="40.8" font-size="11.5" fill="#000" textLength="24.5" lengthAdjust="spacingAndGlyphs" text-anchor="start">2.40</text>
<text x="638" y="62.8" font-size="11.5" fill="#000" textLength="24.5" lengthAdjust="spacingAndGlyphs" text-anchor="start">2.30</text>
<text x="638" y="85.8" font-size="11.5" fill="#000" textLength="24.5" lengthAdjust="spacingAndGlyphs" text-anchor="start">2.20</text>
<text x="638" y="109.8" font-size="11.5" fill="#000" textLength="24.5" lengthAdjust="spacingAndGlyphs" text-anchor="start">2.10</text>
<text x="638" y="135.8" font-size="11.5" fill="#000" textLength="24.5" lengthAdjust="spacingAndGlyphs" text-anchor="start">2.00</text>
<text x="638" y="161.8" font-size="11.5" fill="#000" textLength="24.5" lengthAdjust="spacingAndGlyphs" text-anchor="start">1.90</text>
<text x="638" y="189.8" font-size="11.5" fill="#000" textLength="24.5" lengthAdjust="spacingAndGlyphs" text-anchor="start">1.80</text>
<text x="638" y="219.8" font-size="11.5" fill="#000" textLength="24.5" lengthAdjust="spacingAndGlyphs" text-anchor="start">1.70</text>
<text x="638" y="250.8" font-size="11.5" fill="#000" textLength="24.5" lengthAdjust="spacingAndGlyphs" text-anchor="start">1.60</text>
<text x="638" y="283.8" font-size="11.5" fill="#000" textLength="24.5" lengthAdjust="spacingAndGlyphs" text-anchor="start">1.50</text>
<text x="638" y="319.8" font-size="11.5" fill="#000" textLength="24.5" lengthAdjust="spacingAndGlyphs" text-anchor="start">1.40</text>
<text x="638" y="357.8" font-size="11.5" fill="#000" textLength="24.5" lengthAdjust="spacingAndGlyphs" text-anchor="start">1.30</text>
<text x="638.5" y="439.8" font-size="11.5" fill="#000" textLength="31" lengthAdjust="spacingAndGlyphs" text-anchor="start">0.050</text>
<text x="638.5" y="460.8" font-size="11.5" fill="#000" textLength="31" lengthAdjust="spacingAndGlyphs" text-anchor="start">0.000</text>
<text x="638.5" y="482.8" font-size="11.5" fill="#000" textLength="36" lengthAdjust="spacingAndGlyphs" text-anchor="start">-0.050</text>
<text x="638.5" y="504.8" font-size="11.5" fill="#000" textLength="36" lengthAdjust="spacingAndGlyphs" text-anchor="start">-0.100</text>
<rect x="631.5" y="250.5" width="33" height="14" fill="#b4f4b4" stroke="#000" stroke-width="1" shape-rendering="crispEdges"/>
<text x="638" y="261" font-size="11.5" fill="#000" textLength="23.5" lengthAdjust="spacingAndGlyphs" text-anchor="start">1.59</text>
<text x="2.5" y="398" font-size="11.2" fill="#000" textLength="42" lengthAdjust="spacingAndGlyphs" text-anchor="start">2025Jul</text>
<text x="71.5" y="398" font-size="11.2" fill="#000" textLength="21" lengthAdjust="spacingAndGlyphs" text-anchor="start">Aug</text>
<text x="273.5" y="398" font-size="11.2" fill="#000" textLength="21" lengthAdjust="spacingAndGlyphs" text-anchor="start">Sep</text>
<text x="477" y="398" font-size="11.2" fill="#000" textLength="18.5" lengthAdjust="spacingAndGlyphs" text-anchor="start">Oct</text>
<text x="2.5" y="526" font-size="11.2" fill="#000" textLength="42" lengthAdjust="spacingAndGlyphs" text-anchor="start">2025Jul</text>
<text x="71.5" y="526" font-size="11.2" fill="#000" textLength="21" lengthAdjust="spacingAndGlyphs" text-anchor="start">Aug</text>
<text x="273.5" y="526" font-size="11.2" fill="#000" textLength="21" lengthAdjust="spacingAndGlyphs" text-anchor="start">Sep</text>
<text x="477" y="526" font-size="11.2" fill="#000" textLength="18.5" lengthAdjust="spacingAndGlyphs" text-anchor="start">Oct</text>
<text x="597.6" y="542" font-size="11.5" fill="#000" text-anchor="start">©</text>
<text x="608.6" y="542" font-size="11.5" fill="#000" textLength="71" lengthAdjust="spacingAndGlyphs" text-anchor="start">12Stocks.com</text>
</svg></body></html>
